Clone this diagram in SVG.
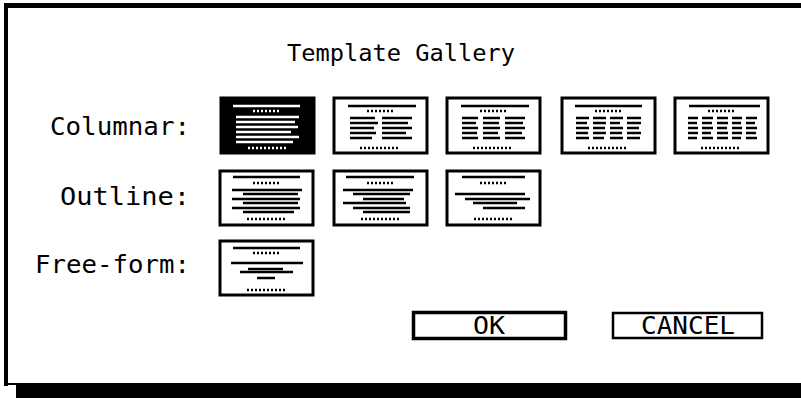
<svg xmlns="http://www.w3.org/2000/svg" width="801" height="398" viewBox="0 0 801 398">
<style>
text{font-family:"DejaVu Sans Mono","Liberation Mono",monospace;fill:#000}
.lbl{font-size:24px;text-anchor:end}
.ttl{font-size:23px;text-anchor:middle}
.btn{font-size:24px;text-anchor:middle}
.fr{fill:#fff;stroke:#000;stroke-width:3}
.ln{stroke:#000;stroke-width:2.5}
.dt{stroke:#000;stroke-width:2.5;stroke-dasharray:2 2}
.inv .ln,.inv .dt{stroke:#fff}
</style>
<rect width="801" height="398" fill="#fff"/>
<g id="frame">
<rect x="4" y="3" width="797" height="5" fill="#000"/>
<rect x="4" y="3" width="4" height="383" fill="#000"/>
<rect x="4" y="383" width="797" height="2" fill="#000"/>
<rect x="16" y="385" width="785" height="13" fill="#000"/>
</g>
<g id="title"><text class="ttl" x="401" y="61" textLength="228" lengthAdjust="spacingAndGlyphs">Template Gallery</text></g>
<g id="labels">
<text class="lbl" x="190" y="135" textLength="140" lengthAdjust="spacingAndGlyphs">Columnar:</text>
<text class="lbl" x="190" y="205" textLength="130" lengthAdjust="spacingAndGlyphs">Outline:</text>
<text class="lbl" x="190" y="273" textLength="155" lengthAdjust="spacingAndGlyphs">Free-form:</text>
</g>
<g id="col1" class="inv" transform="translate(221,98)">
<rect width="93" height="55" fill="#000" stroke="#000" stroke-width="3"/>
<line class="ln" x1="12" y1="8" x2="79" y2="8"/>
<line class="dt" x1="32" y1="13" x2="58" y2="13"/>
<line class="ln" x1="15" y1="19" x2="78" y2="19"/>
<line class="ln" x1="15" y1="24" x2="74" y2="24"/>
<line class="ln" x1="15" y1="29" x2="77" y2="29"/>
<line class="ln" x1="15" y1="34" x2="70" y2="34"/>
<line class="ln" x1="15" y1="39" x2="78" y2="39"/>
<line class="ln" x1="15" y1="44" x2="72" y2="44"/>
<line class="dt" x1="27" y1="50" x2="65" y2="50"/>
</g>
<g id="col2" transform="translate(334,98)">
<rect class="fr" width="93" height="55"/>
<line class="ln" x1="14" y1="8" x2="82" y2="8"/>
<line class="dt" x1="33" y1="13" x2="59" y2="13"/>
<g class="ln">
<line x1="16" y1="20" x2="41" y2="20"/><line x1="48" y1="20" x2="78" y2="20"/>
<line x1="16" y1="25" x2="44" y2="25"/><line x1="48" y1="25" x2="74" y2="25"/>
<line x1="16" y1="30" x2="40" y2="30"/><line x1="48" y1="30" x2="78" y2="30"/>
<line x1="16" y1="35" x2="42" y2="35"/><line x1="48" y1="35" x2="72" y2="35"/>
<line x1="16" y1="40" x2="38" y2="40"/><line x1="48" y1="40" x2="78" y2="40"/>
</g>
<line class="dt" x1="26" y1="50" x2="66" y2="50"/>
</g>
<g id="col3" transform="translate(447,98)">
<rect class="fr" width="93" height="55"/>
<line class="ln" x1="14" y1="8" x2="82" y2="8"/>
<line class="dt" x1="33" y1="13" x2="59" y2="13"/>
<g class="ln">
<line x1="15" y1="20" x2="31" y2="20"/><line x1="36" y1="20" x2="53" y2="20"/><line x1="58" y1="20" x2="78" y2="20"/>
<line x1="15" y1="25" x2="29" y2="25"/><line x1="36" y1="25" x2="52" y2="25"/><line x1="58" y1="25" x2="76" y2="25"/>
<line x1="15" y1="30" x2="31" y2="30"/><line x1="36" y1="30" x2="53" y2="30"/><line x1="58" y1="30" x2="78" y2="30"/>
<line x1="15" y1="35" x2="30" y2="35"/><line x1="36" y1="35" x2="51" y2="35"/><line x1="58" y1="35" x2="75" y2="35"/>
<line x1="15" y1="40" x2="31" y2="40"/><line x1="36" y1="40" x2="53" y2="40"/><line x1="58" y1="40" x2="78" y2="40"/>
</g>
<line class="dt" x1="26" y1="50" x2="66" y2="50"/>
</g>
<g id="col4" transform="translate(562,98)">
<rect class="fr" width="93" height="55"/>
<line class="ln" x1="13" y1="8" x2="80" y2="8"/>
<line class="dt" x1="33" y1="13" x2="59" y2="13"/>
<g class="ln">
<line x1="14" y1="20" x2="27" y2="20"/><line x1="31" y1="20" x2="44" y2="20"/><line x1="48" y1="20" x2="61" y2="20"/><line x1="65" y1="20" x2="79" y2="20"/>
<line x1="14" y1="25" x2="25" y2="25"/><line x1="31" y1="25" x2="44" y2="25"/><line x1="48" y1="25" x2="58" y2="25"/><line x1="65" y1="25" x2="79" y2="25"/>
<line x1="14" y1="30" x2="27" y2="30"/><line x1="31" y1="30" x2="43" y2="30"/><line x1="48" y1="30" x2="61" y2="30"/><line x1="65" y1="30" x2="77" y2="30"/>
<line x1="14" y1="35" x2="26" y2="35"/><line x1="31" y1="35" x2="44" y2="35"/><line x1="48" y1="35" x2="60" y2="35"/><line x1="65" y1="35" x2="79" y2="35"/>
<line x1="14" y1="40" x2="27" y2="40"/><line x1="31" y1="40" x2="42" y2="40"/><line x1="48" y1="40" x2="61" y2="40"/><line x1="65" y1="40" x2="78" y2="40"/>
</g>
<line class="dt" x1="26" y1="50" x2="66" y2="50"/>
</g>
<g id="col5" transform="translate(675,98)">
<rect class="fr" width="93" height="55"/>
<line class="ln" x1="14" y1="8" x2="85" y2="8"/>
<line class="dt" x1="33" y1="13" x2="59" y2="13"/>
<g class="ln">
<line x1="13" y1="20" x2="23" y2="20"/><line x1="27" y1="20" x2="38" y2="20"/><line x1="42" y1="20" x2="53" y2="20"/><line x1="57" y1="20" x2="67" y2="20"/><line x1="71" y1="20" x2="82" y2="20"/>
<line x1="13" y1="25" x2="22" y2="25"/><line x1="27" y1="25" x2="37" y2="25"/><line x1="42" y1="25" x2="53" y2="25"/><line x1="57" y1="25" x2="66" y2="25"/><line x1="71" y1="25" x2="80" y2="25"/>
<line x1="13" y1="30" x2="23" y2="30"/><line x1="27" y1="30" x2="38" y2="30"/><line x1="42" y1="30" x2="52" y2="30"/><line x1="57" y1="30" x2="67" y2="30"/><line x1="71" y1="30" x2="82" y2="30"/>
<line x1="13" y1="35" x2="23" y2="35"/><line x1="27" y1="35" x2="36" y2="35"/><line x1="42" y1="35" x2="53" y2="35"/><line x1="57" y1="35" x2="67" y2="35"/><line x1="71" y1="35" x2="81" y2="35"/>
<line x1="13" y1="40" x2="22" y2="40"/><line x1="27" y1="40" x2="38" y2="40"/><line x1="42" y1="40" x2="53" y2="40"/><line x1="57" y1="40" x2="66" y2="40"/><line x1="71" y1="40" x2="82" y2="40"/>
</g>
<line class="dt" x1="26" y1="50" x2="66" y2="50"/>
</g>
<g id="out1" transform="translate(220,171)">
<rect class="fr" width="93" height="54"/>
<line class="ln" x1="13" y1="6" x2="80" y2="6"/>
<line class="dt" x1="33" y1="12" x2="59" y2="12"/>
<g class="ln">
<line x1="12" y1="19" x2="82" y2="19"/>
<line x1="23" y1="23" x2="78" y2="23"/>
<line x1="12" y1="28" x2="80" y2="28"/>
<line x1="23" y1="32" x2="78" y2="32"/>
<line x1="12" y1="37" x2="80" y2="37"/>
<line x1="23" y1="41" x2="74" y2="41"/>
</g>
<line class="dt" x1="27" y1="48" x2="65" y2="48"/>
</g>
<g id="out2" transform="translate(334,171)">
<rect class="fr" width="93" height="54"/>
<line class="ln" x1="12" y1="6" x2="80" y2="6"/>
<line class="dt" x1="33" y1="12" x2="59" y2="12"/>
<g class="ln">
<line x1="9" y1="19" x2="79" y2="19"/>
<line x1="19" y1="23" x2="76" y2="23"/>
<line x1="29" y1="28" x2="70" y2="28"/>
<line x1="9" y1="32" x2="72" y2="32"/>
<line x1="19" y1="37" x2="76" y2="37"/>
<line x1="29" y1="41" x2="76" y2="41"/>
</g>
<line class="dt" x1="27" y1="48" x2="65" y2="48"/>
</g>
<g id="out3" transform="translate(447,171)">
<rect class="fr" width="93" height="54"/>
<line class="ln" x1="15" y1="6" x2="78" y2="6"/>
<line class="dt" x1="33" y1="12" x2="59" y2="12"/>
<g class="ln">
<line x1="8" y1="23" x2="78" y2="23"/>
<line x1="18" y1="28" x2="83" y2="28"/>
<line x1="26" y1="32" x2="70" y2="32"/>
<line x1="36" y1="37" x2="78" y2="37"/>
</g>
<line class="dt" x1="27" y1="48" x2="65" y2="48"/>
</g>
<g id="free1" transform="translate(220,241)">
<rect class="fr" width="93" height="54"/>
<line class="ln" x1="13" y1="7" x2="80" y2="7"/>
<line class="dt" x1="33" y1="12" x2="59" y2="12"/>
<g class="ln">
<line x1="11" y1="22" x2="83" y2="22"/>
<line x1="28" y1="28" x2="63" y2="28"/>
<line x1="20" y1="31" x2="73" y2="31"/>
<line x1="37" y1="37" x2="55" y2="37"/>
</g>
<line class="dt" x1="27" y1="49" x2="65" y2="49"/>
</g>
<g id="ok">
<rect x="413.5" y="312.5" width="152" height="26" fill="#fff" stroke="#000" stroke-width="3.5"/>
<text class="btn" x="489" y="334" textLength="32" lengthAdjust="spacingAndGlyphs">OK</text>
</g>
<g id="cancel">
<rect x="613" y="313" width="149" height="25" fill="#fff" stroke="#000" stroke-width="2.5"/>
<text class="btn" x="688" y="334" textLength="94" lengthAdjust="spacingAndGlyphs">CANCEL</text>
</g>
</svg>
